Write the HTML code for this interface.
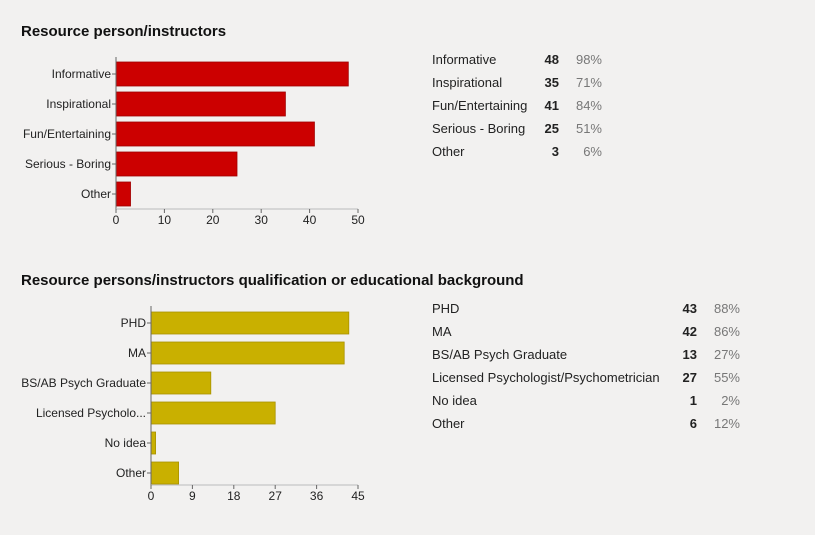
<!DOCTYPE html>
<html><head><meta charset="utf-8"><style>
body{margin:0;width:815px;height:535px;background:#f2f1f0;font-family:"Liberation Sans",Arial,sans-serif;position:relative;overflow:hidden;color:#222}
.t{position:absolute;font-weight:bold;font-size:15px;color:#111}
.r{position:absolute;font-size:13px;color:#222;white-space:nowrap}
.c{position:absolute;font-size:13px;font-weight:bold;text-align:right;width:30px}
.p{position:absolute;font-size:13px;color:#777;text-align:right;width:40px}
</style></head><body>
<div class="t" style="left:21px;top:23px">Resource person/instructors</div>
<div class="t" style="left:21px;top:272px">Resource persons/instructors qualification or educational background</div>
<svg id="svg" width="815" height="535" style="position:absolute;left:0;top:0"></svg>
<div id="tables"></div>
<script>
const cats1=["Informative","Inspirational","Fun/Entertaining","Serious - Boring","Other"];
const vals1=[48,35,41,25,3];
const pcts1=["98%","71%","84%","51%","6%"];
const ticks1=[0,10,20,30,40,50];
const cats2=["PHD","MA","BS/AB Psych Graduate","Licensed Psycholo...","No idea","Other"];
const full2=["PHD","MA","BS/AB Psych Graduate","Licensed Psychologist/Psychometrician","No idea","Other"];
const vals2=[43,42,13,27,1,6];
const pcts2=["88%","86%","27%","55%","2%","12%"];
const ticks2=[0,9,18,27,36,45];
const svg=document.getElementById('svg');
const NS='http://www.w3.org/2000/svg';
function mk(t,a){const e=document.createElementNS(NS,t);for(const k in a)e.setAttribute(k,a[k]);svg.appendChild(e);return e;}
function chart(id,cats,vals,ticks,x0,x1,y0,step,bh,color,stroke,axisBottom){
  const max=ticks[ticks.length-1];
  const sx=v=>x0+(x1-x0)*v/max;
  cats.forEach((c,i)=>{
    const cy=y0+i*step;
    const r=mk('rect',{x:sx(0),y:cy-bh/2,width:sx(vals[i])-sx(0),height:bh,fill:color,stroke:stroke,'stroke-width':0.8});
    
    
    const t=mk('text',{x:x0-5,y:cy+4,'text-anchor':'end','font-size':'12',fill:'#222'});t.textContent=c;
    
    
    mk('line',{x1:x0-4,x2:x0,y1:cy,y2:cy,stroke:'#666'});
  });
  mk('line',{x1:x0,x2:x0,y1:y0-step/2-2,y2:axisBottom,stroke:'#666'});
  mk('line',{x1:x0,x2:x1,y1:axisBottom,y2:axisBottom,stroke:'#bbb'});
  ticks.forEach(v=>{
    mk('line',{x1:sx(v),x2:sx(v),y1:axisBottom,y2:axisBottom+4,stroke:'#666'});
    const t=mk('text',{x:sx(v),y:axisBottom+15,'text-anchor':'middle','font-size':'12',fill:'#222'});t.textContent=v;
    
    
  });
}
chart('chart1',cats1,vals1,ticks1,116,358,74,30,24,'#cc0000','#a00000',209);
chart('chart2',cats2,vals2,ticks2,151,358,323,30,22,'#c9b000','#a89200',485);
const tb=document.getElementById('tables');
function table(id,cats,vals,pcts,y0,cx,px){
  cats.forEach((c,i)=>{
    const y=y0+i*23;
    const a=document.createElement('div');a.className='r';a.style.left='432px';a.style.top=y+'px';a.textContent=c;
    
    
    const b=document.createElement('div');b.className='c';b.style.left=(cx-30)+'px';b.style.top=y+'px';b.textContent=vals[i];
    
    
    const d=document.createElement('div');d.className='p';d.style.left=(px-40)+'px';d.style.top=y+'px';d.textContent=pcts[i];
    
    
    tb.append(a,b,d);
  });
}
table('table1',cats1,vals1,pcts1,52,559,602);
table('table2',full2,vals2,pcts2,301,697,740);
</script>
</body></html>
